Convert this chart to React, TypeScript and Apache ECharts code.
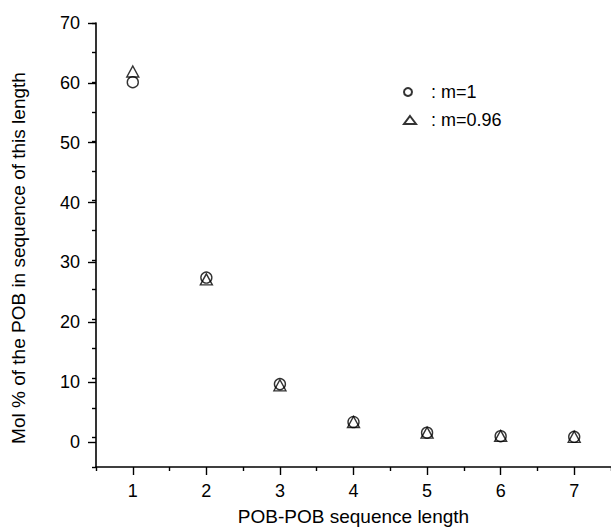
import React, { useEffect, useRef } from "react";
import * as echarts from "echarts";

const categories = ["1", "2", "3", "4", "5", "6", "7"];
const seriesM1 = [60, 27, 9, 2.6, 0.8, 0.2, 0.1];
const seriesM096 = [61.8, 26.7, 8.8, 2.6, 0.8, 0.25, 0.1];
const yMajorTicks = { min: 0, max: 70, interval: 10 };
const yMinorTicks = { min: -5, max: 70, interval: 5 };
const nameM1 = "m=1";
const nameM096 = "m=0.96";
const xTitle = "POB-POB sequence length";
const yTitle = "Mol % of the POB in sequence of this length";

const FONT = 'Arial, "Liberation Sans", Helvetica, sans-serif';

export default function App() {
  const ref = useRef<HTMLDivElement>(null);
  useEffect(() => {
    document.body.style.margin = "0";
    if (!ref.current) return;
    const chart = echarts.init(ref.current, null, { renderer: "svg" });
    const markStyle = { color: "rgba(0,0,0,0)", borderColor: "#000", borderWidth: 1.4 };
    chart.setOption({
      animation: false,
      backgroundColor: "#fff",
      grid: [
        { left: 96, right: 0, top: 23, bottom: 59 },
        { left: 96, right: 0, top: 23, bottom: 89 },
      ],
      xAxis: [
        {
          type: "category",
          gridIndex: 0,
          data: categories,
          position: "bottom",
          boundaryGap: true,
          axisLine: { show: true, onZero: false, lineStyle: { color: "#000", width: 1.6 } },
          axisTick: { show: true, alignWithLabel: true, length: 8, lineStyle: { color: "#000", width: 1.4 } },
          axisLabel: { show: true, color: "#000", fontSize: 18, fontFamily: FONT, margin: 15 },
          splitLine: { show: false },
          name: xTitle,
          nameLocation: "middle",
          nameGap: 40,
          nameTextStyle: { color: "#000", fontSize: 19, fontFamily: FONT },
        },
        {
          type: "category",
          gridIndex: 0,
          data: categories,
          position: "bottom",
          offset: 0,
          boundaryGap: true,
          axisLine: { show: false, onZero: false },
          axisTick: { show: true, alignWithLabel: false, length: 4, lineStyle: { color: "#000", width: 1.4 } },
          axisLabel: { show: false },
          splitLine: { show: false },
        },
        {
          type: "category",
          gridIndex: 1,
          data: categories,
          show: false,
        },
      ],
      yAxis: [
        {
          type: "value",
          gridIndex: 0,
          min: yMinorTicks.min,
          max: yMinorTicks.max,
          interval: yMinorTicks.interval,
          axisLine: { show: true, onZero: false, lineStyle: { color: "#000", width: 1.6 } },
          axisTick: { show: true, length: 4, lineStyle: { color: "#000", width: 1.4 } },
          axisLabel: { show: false },
          splitLine: { show: false },
        },
        {
          type: "value",
          gridIndex: 1,
          min: yMajorTicks.min,
          max: yMajorTicks.max,
          interval: yMajorTicks.interval,
          axisLine: { show: false, onZero: false },
          axisTick: { show: true, length: 8, lineStyle: { color: "#000", width: 1.4 } },
          axisLabel: { show: true, color: "#000", fontSize: 18, fontFamily: FONT, margin: 16 },
          splitLine: { show: false },
        },
      ],
      legend: [
        {
          data: [nameM1],
          orient: "vertical",
          left: 398,
          top: 78,
          itemWidth: 8,
          itemHeight: 8,
          selectedMode: false,
          formatter: (n: string) => ": " + n,
          textStyle: { color: "#000", fontSize: 18, fontFamily: FONT, padding: [0, 0, 0, 14] },
        },
        {
          data: [nameM096],
          orient: "vertical",
          left: 398,
          top: 106,
          itemWidth: 12,
          itemHeight: 8,
          symbolKeepAspect: false,
          selectedMode: false,
          formatter: (n: string) => ": " + n,
          textStyle: { color: "#000", fontSize: 18, fontFamily: FONT, padding: [0, 0, 0, 10] },
        },
      ],
      graphic: [
        {
          type: "text",
          x: 18,
          y: 258,
          rotation: Math.PI / 2,
          style: {
            text: yTitle,
            fill: "#000",
            font: `19px ${FONT}`,
            textAlign: "center",
            textVerticalAlign: "middle",
          },
        },
      ],
      series: [
        {
          name: nameM096,
          type: "scatter",
          xAxisIndex: 0,
          yAxisIndex: 0,
          symbol: "triangle",
          symbolSize: [12, 11],
          itemStyle: markStyle,
          data: seriesM096,
        },
        {
          name: nameM1,
          type: "scatter",
          xAxisIndex: 0,
          yAxisIndex: 0,
          symbol: "circle",
          symbolSize: 11,
          itemStyle: markStyle,
          data: seriesM1,
        },
      ],
    });
    return () => chart.dispose();
  }, []);
  return <div ref={ref} style={{ width: 611, height: 531 }} />;
}
